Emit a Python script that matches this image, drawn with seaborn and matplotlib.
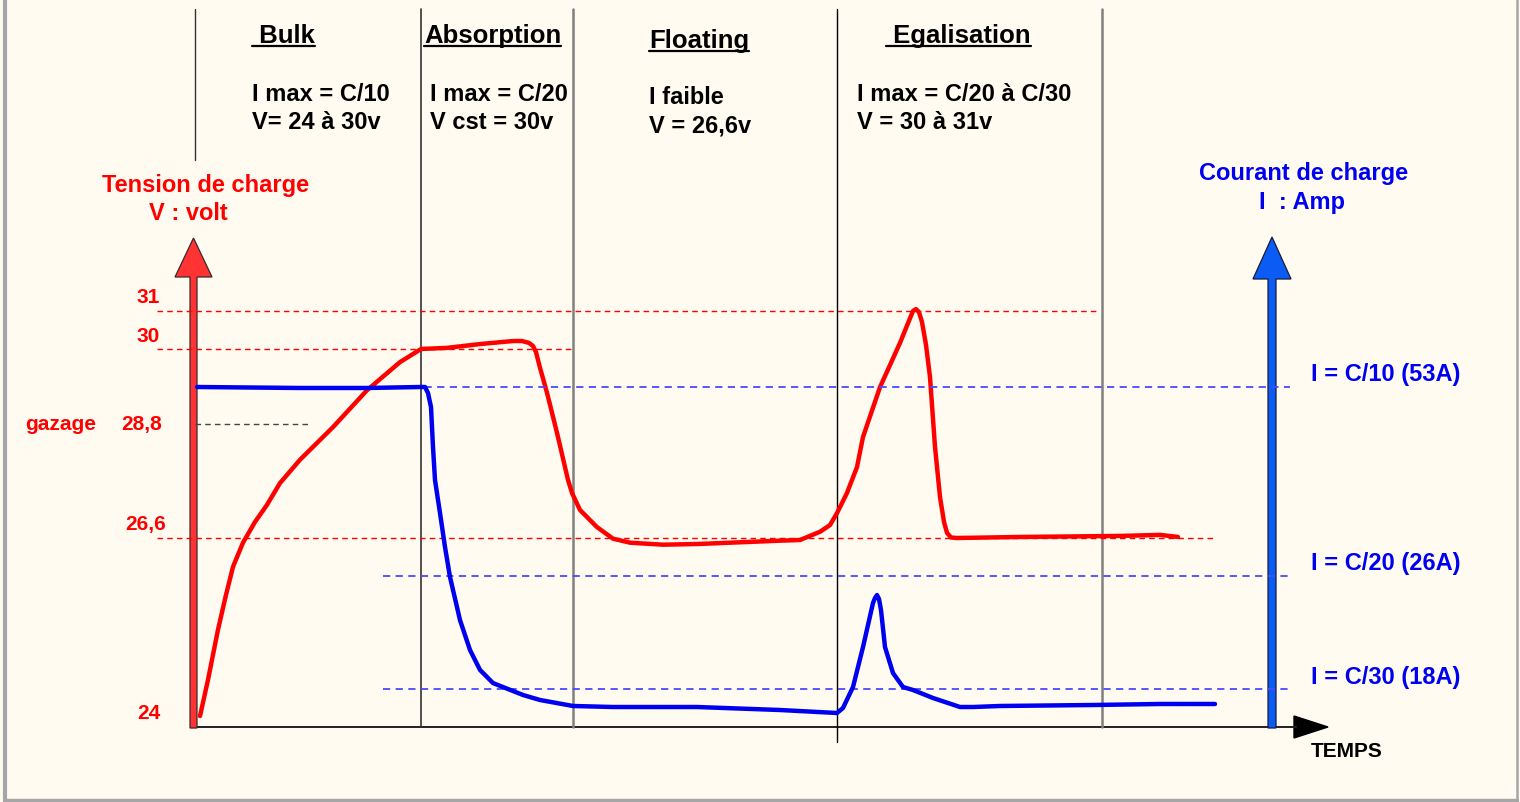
"""
Battery charge profile (Bulk / Absorption / Floating / Egalisation):
voltage and current versus time on schematic, non-linear axes.
"""

import matplotlib

matplotlib.use("Agg")
import matplotlib.pyplot as plt
import numpy as np
import seaborn as sns
from matplotlib.patches import FancyArrow

W, H = 1520, 802
BG = "#fffbf0"
RED = "#ff0000"
BLUE = "#0000f0"

# --- data -----------------------------------------------------------------
# time in arbitrary units, voltage in volts
VOLT_TIME = [7, 15, 25, 33, 40, 50, 62, 74, 87, 107,
             140, 174, 207, 228, 254, 287, 320, 329, 336, 340,
             343, 347, 354, 364, 375, 379, 387, 404, 420, 437,
             470, 504, 554, 587, 607, 627, 637, 644, 654, 664,
             670, 687, 707, 715, 720, 723, 726, 729, 733, 737,
             742, 747, 751, 754, 758, 764, 827, 927, 967, 985]
VOLT = [23.94, 24.48, 25.23, 25.75, 26.17, 26.53, 26.91, 27.24, 27.66, 28.11,
        28.74, 29.34, 29.79, 30.00, 30.03, 30.13, 30.21, 30.21, 30.16, 30.08,
        29.95, 29.70, 29.30, 28.63, 27.72, 27.47, 27.14, 26.81, 26.59, 26.53,
        26.50, 26.51, 26.54, 26.56, 26.57, 26.72, 26.85, 27.08, 27.47, 27.97,
        28.55, 29.39, 30.16, 30.68, 31.00, 31.05, 30.97, 30.71, 30.11, 29.55,
        28.36, 27.39, 26.91, 26.70, 26.61, 26.60, 26.62, 26.64, 26.66, 26.62]

# charge current in amps
AMP_TIME = [4, 107, 174, 228, 232, 235, 238, 240, 242, 247,
            252, 257, 267, 277, 287, 300, 320, 330, 347, 380,
            420, 504, 587, 644, 650, 660, 670, 680, 682, 684,
            686, 688, 692, 700, 710, 720, 740, 767, 780, 807,
            900, 967, 1022]
AMP = [53.0, 52.86, 52.86, 53.0, 53.0, 52.14, 50.14, 44.43, 39.71, 35.0,
       30.14, 25.93, 22.88, 20.76, 19.35, 18.42, 17.05, 15.16, 12.79, 9.95,
       9.47, 9.47, 8.05, 6.63, 9.00, 18.14, 20.97, 24.09, 24.44, 24.65,
       24.37, 23.59, 20.97, 19.13, 18.14, 17.53, 13.74, 9.47, 9.47, 9.95,
       10.42, 10.90, 10.90]

VOLT_MARKS = [31, 30, 28.8, 26.6, 24]
VOLT_MARK_LABELS = ["31", "30", "28,8", "26,6", "24"]
AMP_MARKS = [53, 26, 18]
AMP_MARK_LABELS = ["I = C/10 (53A)", "I = C/20 (26A)", "I = C/30 (18A)"]

PHASE_EDGES = [2, 228, 380, 644, 909]
PHASES = [" Bulk", "Absorption", "Floating", " Egalisation"]
PHASE_INFO = [
    ("I max = C/10", "V= 24 à 30v"),
    ("I max = C/20", "V cst = 30v"),
    ("I faible", "V = 26,6v"),
    ("I max = C/20 à C/30", "V = 30 à 31v"),
]

# --- schematic axis layout (pixel row of each reference level) ------------
VOLT_LEVELS = [24, 26.6, 28.8, 30, 31]
VOLT_ROWS = [712, 538, 424, 349, 311]
AMP_LEVELS = [0, 18, 26, 53]
AMP_ROWS = [727, 689, 576, 387]
T0 = 193  # pixel column of time origin


def piecewise(levels, rows):
    lv = np.asarray(levels, float)
    h = H - np.asarray(rows, float)
    lo = (h[1] - h[0]) / (lv[1] - lv[0])
    hi = (h[-1] - h[-2]) / (lv[-1] - lv[-2])
    span = 1000.0
    lv_ext = np.r_[lv[0] - span, lv, lv[-1] + span]
    h_ext = np.r_[h[0] - span * lo, h, h[-1] + span * hi]

    def fwd(v):
        return np.interp(v, lv_ext, h_ext)

    def inv(y):
        return np.interp(y, h_ext, lv_ext)

    return fwd, inv


sns.set_style("white")
plt.rcParams["font.family"] = ["Liberation Sans", "DejaVu Sans"]
plt.rcParams["font.weight"] = "bold"
plt.rcParams["text.color"] = "black"

fig = plt.figure(figsize=(W / 100, H / 100), dpi=100, facecolor=BG)

# decoration layer in pixel coordinates (top-left origin)
deco = fig.add_axes([0, 0, 1, 1])
deco.set_xlim(0, W)
deco.set_ylim(H, 0)
deco.set_axis_off()

ax = fig.add_axes([0, 0, 1, 1])
ax.patch.set_alpha(0)
fv, iv = piecewise(VOLT_LEVELS, VOLT_ROWS)
ax.set_yscale("function", functions=(fv, iv))

ax2 = ax.twinx()
ax2.patch.set_alpha(0)
fa, ia = piecewise(AMP_LEVELS, AMP_ROWS)
ax2.set_yscale("function", functions=(fa, ia))

# reference levels
dash = (0, (4, 3))
ax.hlines(31, -36, 907, colors=RED, lw=1, linestyles=dash, zorder=2)
ax.hlines(30, -36, 379, colors=RED, lw=1, linestyles=dash, zorder=2)
ax.hlines(26.6, -36, 1022, colors=RED, lw=1, linestyles=dash, zorder=2)
ax.hlines(28.8, 2, 115, colors="#444444", lw=1, linestyles=dash, zorder=2)
ax2.hlines(53, 4, 1097, colors="#4a4aff", lw=1.3, linestyles=dash, zorder=2)
ax2.hlines([26, 18], 190, 1097, colors="#4a4aff", lw=1.3, linestyles=dash, zorder=2)

# phase separators
bottoms = [160, 727, 727, 742, 727]
vcols = ["#333333", "#333333", "#808080", "#000000", "#808080"]
vlws = [1.0, 1.2, 1.8, 1.0, 1.8]
for t, b, c, lw in zip(PHASE_EDGES, bottoms, vcols, vlws):
    ax.axvline(t, ymin=1 - b / H, ymax=1 - 9 / H, color=c, lw=lw, zorder=1)

# curves
sns.lineplot(x=VOLT_TIME, y=VOLT, ax=ax, color=RED, lw=3.2,
             estimator=None, sort=False, zorder=5)
sns.lineplot(x=AMP_TIME, y=AMP, ax=ax2, color=BLUE, lw=3.2,
             estimator=None, sort=False, zorder=5)
for ln in ax.lines + ax2.lines:
    ln.set_solid_joinstyle("round")
    ln.set_solid_capstyle("round")

ax.set_xlim(-T0, W - T0)
ax.set_ylim(iv(0), iv(H))
ax2.set_ylim(ia(0), ia(H))
ax.set_axis_off()
ax2.set_axis_off()

# frame
deco.plot([5, 5], [0, H], color="#a6a6a6", lw=3)
deco.plot([5, 1517], [800, 800], color="#a6a6a6", lw=2.5)
deco.plot([1517, 1517], [0, H], color="#a6a6a6", lw=1.8)

# axes arrows
deco.add_patch(FancyArrow(1290, 727, 1328 - 1290, 0, width=0.5, head_width=22,
                          head_length=34, length_includes_head=True,
                          color="black", zorder=2))
deco.plot([193, 1296], [727, 727], color="#222222", lw=1.4, zorder=2)
deco.add_patch(FancyArrow(193.5, 728, 0, 238 - 728, width=7, head_width=37,
                          head_length=39, length_includes_head=True,
                          facecolor="#ff3333", edgecolor="#3a2a2a", lw=0.9, zorder=3))
deco.add_patch(FancyArrow(1272, 728, 0, 237 - 728, width=8, head_width=38,
                          head_length=42, length_includes_head=True,
                          facecolor="#0a5cf5", edgecolor="#1a1a3a", lw=0.9, zorder=3))

# phase headers and notes
head_x = [252, 424, 649, 886]
head_y = [43, 43, 48, 43]
info_x = [252, 430, 649, 857]
info_y = [101, 101, 104, 101]
headers = []
for name, (l1, l2), hx, hy, ix, iy in zip(PHASES, PHASE_INFO, head_x, head_y, info_x, info_y):
    headers.append(deco.text(hx, hy, name, fontsize=18.5, fontweight="bold",
                             ha="left", va="baseline", color="black"))
    deco.text(ix, iy, l1, fontsize=17, fontweight="bold", color="black",
              ha="left", va="baseline")
    deco.text(ix, iy + 28, l2, fontsize=17, fontweight="bold", color="black",
              ha="left", va="baseline")

# axis titles
deco.text(102, 192, "Tension de charge", fontsize=17, color=RED, fontweight="bold",
          ha="left", va="baseline")
deco.text(149, 220, "V : volt", fontsize=17, color=RED, fontweight="bold",
          ha="left", va="baseline")
deco.text(1199, 180, "Courant de charge", fontsize=17, color=BLUE, fontweight="bold",
          ha="left", va="baseline")
deco.text(1259, 209, "I  : Amp", fontsize=17, color=BLUE, fontweight="bold",
          ha="left", va="baseline")

# voltage level labels
vl_right = [160, 160, 162, 166, 161]
vl_base = [303, 342, 430, 530, 719]
for lab, xr, yb in zip(VOLT_MARK_LABELS, vl_right, vl_base):
    deco.text(xr, yb, lab, fontsize=15, color=RED, fontweight="bold",
              ha="right", va="baseline")
deco.text(25, 430, "gazage", fontsize=15, color=RED, fontweight="bold",
          ha="left", va="baseline")

# current level labels
for lab, yb in zip(AMP_MARK_LABELS, [381, 570, 684]):
    deco.text(1311, yb, lab, fontsize=17, color=BLUE, fontweight="bold",
              ha="left", va="baseline")

deco.text(1311, 757, "TEMPS", fontsize=15, color="black", fontweight="bold",
          ha="left", va="baseline")

# underline the phase headers
fig.canvas.draw()
renderer = fig.canvas.get_renderer()
for t, hy in zip(headers, head_y):
    bb = t.get_window_extent(renderer)
    deco.plot([bb.x0, bb.x1], [hy + 3, hy + 3], color="black", lw=1.6)

fig.savefig("out.png", dpi=100, facecolor=BG)
